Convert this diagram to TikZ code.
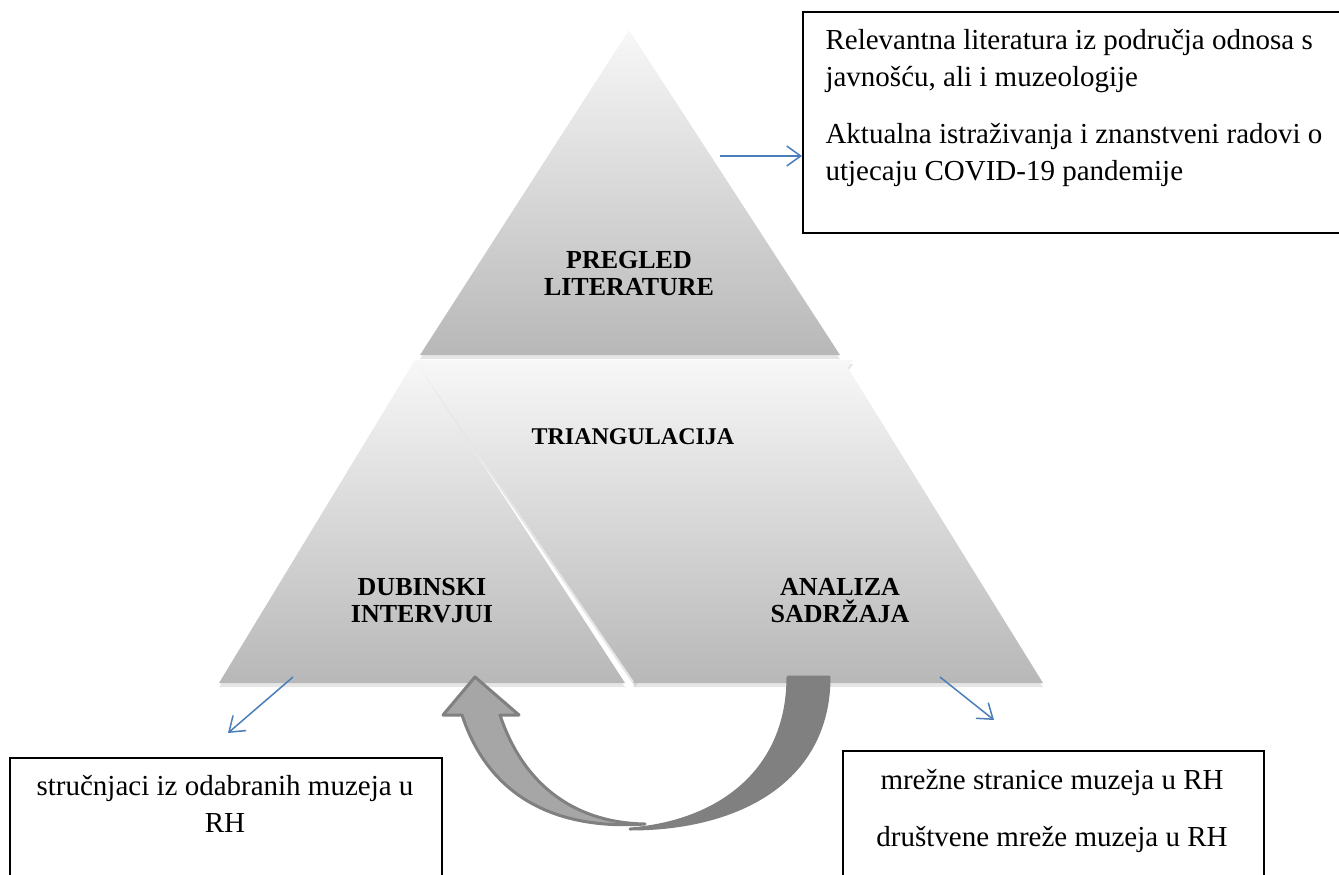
\documentclass[tikz,border=0pt]{standalone}
\usepackage{fontspec}
\setmainfont{Liberation Serif}
\usetikzlibrary{arrows.meta, positioning, shadows}
\definecolor{linkblue}{RGB}{74,126,187}
\definecolor{arrowdark}{RGB}{128,128,128}
\definecolor{arrowlight}{RGB}{166,166,166}

\begin{document}
\begin{tikzpicture}[x=1pt, y=-1pt, >={Straight Barb[length=14pt,width=20pt]},
    tri/.style={top color=white!97!black, bottom color=white!72!black,
        drop shadow={shadow xshift=0pt, shadow yshift=-4pt, opacity=0.2}},
    title/.style={font=\fontsize{26}{27}\selectfont\bfseries, align=center},
    body/.style={font=\fontsize{29}{37}\selectfont},
    box/.style={draw=black, line width=2pt, anchor=north west},
    link/.style={->, draw=linkblue, line width=1.5pt},
    bigarrow/.style={draw=arrowdark, line width=3pt, line join=round}]
    \useasboundingbox (0,0) rectangle (1339,875);
    \clip (0,0) rectangle (1339,875);

    %define the triangles
    \shade[tri] (629,30) -- (840,355) -- (420,355) -- cycle;
    \shade[tri] (415,360) -- (853,360) -- (635,683) -- cycle;
    \shade[tri] (415,360) -- (625,683) -- (219,683) -- cycle;
    \shade[tri] (843,360) -- (1043,683) -- (633,683) -- cycle;

    \node[title] (pregled) at (629,273.5) {PREGLED\\LITERATURE};
    \node[title, font=\fontsize{24}{25}\selectfont\bfseries] (triang) at (633,437) {TRIANGULACIJA};
    \node[title] (dubinski) at (422,600.5) {DUBINSKI\\INTERVJUI};
    \node[title] (analiza) at (840,600.5) {ANALIZA\\SADRŽAJA};

    %define the curved arrow
    \filldraw[bigarrow, fill=arrowdark] (788,677) -- (829,677)
        .. controls (829,780) and (740,829) .. (630,829)
        .. controls (720,822) and (788,770) .. (788,677) -- cycle;
    \filldraw[bigarrow, fill=arrowlight] (475,677) -- (519,715) -- (500,715)
        .. controls (525,790) and (580,823) .. (645,824)
        .. controls (560,830) and (490,800) .. (462,715) -- (443,715) -- cycle;

    %define the boxes
    \node[box, minimum width=560pt, minimum height=221pt] (litbox) at (802,11) {};
    \node[body, align=left, anchor=base west] (littext) at (822,180)
        {Relevantna literatura iz područja odnosa s\\ javnošću, ali i muzeologije\\[20pt]
         Aktualna istraživanja i znanstveni radovi o\\ utjecaju COVID-19 pandemije};
    \node[box, minimum width=432pt, minimum height=150pt] (intbox) at (9,757) {};
    \node[body, align=center, anchor=base] (inttext) at (225,832.7)
        {stručnjaci iz odabranih muzeja u\\ RH};
    \node[box, minimum width=421pt, minimum height=150pt] (sadbox) at (842,750) {};
    \node[body, align=center, anchor=base] (sadtext) at (1052,846.7)
        {mrežne stranice muzeja u RH\\[20pt] društvene mreže muzeja u RH};

    %define the links
    \coordinate (litfrom) at (720,156);
    \coordinate (intfrom) at (293,677);
    \coordinate (intto) at (228,733);
    \coordinate (sadfrom) at (940,677);
    \coordinate (sadto) at (994,720);
    \draw[link] (litfrom) -- (litfrom -| litbox.west);
    \draw[link] (intfrom) -- (intto);
    \draw[link] (sadfrom) -- (sadto);
\end{tikzpicture}
\end{document}
